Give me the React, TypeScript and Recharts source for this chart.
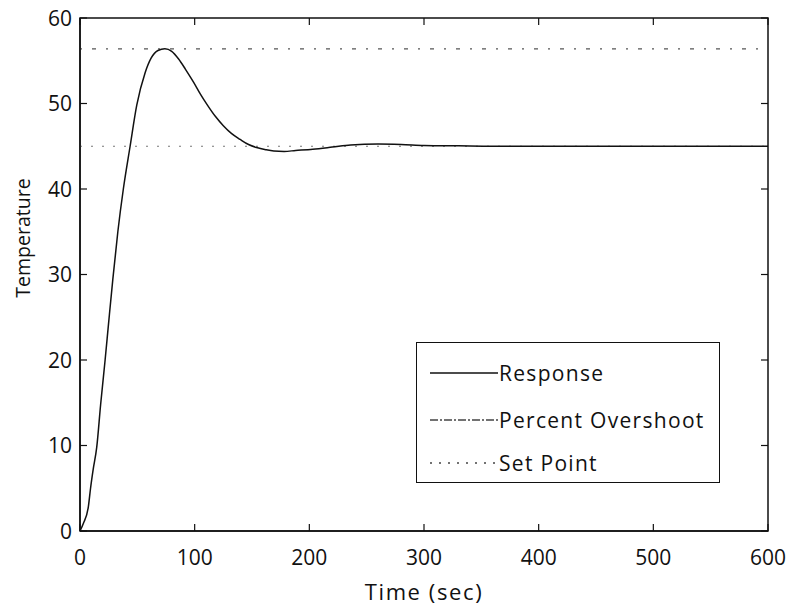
import React from 'react';
import { LineChart, Line, XAxis, YAxis, ReferenceArea } from 'recharts';

// Step response of the temperature loop
const timeSec = [0, 3, 7.3, 9.2, 11.5, 14.6, 18, 21.9, 25, 28.6, 33, 37.8, 43.7, 49.5, 56.8, 62, 68, 74, 80, 86, 92, 99, 105, 110.7, 118, 125, 132, 139.6, 147, 154, 162, 169, 178, 188, 203, 220, 236, 260, 280, 300, 330, 360, 400, 450, 500, 550, 600];
const responseTemp = [0, 0.9, 2.85, 5.0, 7.2, 9.8, 14.8, 20, 24.4, 29.4, 35, 40, 45, 49.8, 53.6, 55.3, 56.2, 56.4, 56.1, 55.2, 54, 52.5, 51.1, 49.9, 48.5, 47.4, 46.5, 45.8, 45.2, 44.85, 44.6, 44.45, 44.4, 44.5, 44.65, 44.9, 45.15, 45.25, 45.2, 45.1, 45.05, 45.0, 45.0, 45.0, 45.0, 45.0, 45.0];

const overshootLevel = 56.4;
const setPointLevel = 45;
const timeSpan = [0, 600];

const xTicks = [0, 100, 200, 300, 400, 500, 600];
const yTicks = [0, 10, 20, 30, 40, 50, 60];

const responseData = timeSec.map((t, i) => ({ t, v: responseTemp[i] }));
const overshootData = timeSpan.map((t) => ({ t, v: overshootLevel }));
const setPointData = timeSpan.map((t) => ({ t, v: setPointLevel }));

const FONT = '"Open Sans", "DejaVu Sans", sans-serif';
const INK = '#111';

// chart geometry
const W = 790;
const H = 606;
const MARGIN = { top: 18, right: 22, bottom: 0, left: 0 };
const Y_AXIS_W = 80;
const X_AXIS_H = 75;
const PLOT_LEFT = MARGIN.left + Y_AXIS_W;
const PLOT_RIGHT = W - MARGIN.right;
const PLOT_TOP = MARGIN.top;
const PLOT_BOTTOM = H - MARGIN.bottom - X_AXIS_H;
const TICK_LEN = 7;

// Bottom tick: label below the frame, inward tick marks on bottom and top edges
function XTick(props: any) {
  const { x, payload } = props;
  return (
    <g>
      <line x1={x} y1={PLOT_BOTTOM} x2={x} y2={PLOT_BOTTOM - TICK_LEN} stroke={INK} strokeWidth={1.2} />
      <line x1={x} y1={PLOT_TOP} x2={x} y2={PLOT_TOP + TICK_LEN} stroke={INK} strokeWidth={1.2} />
      <text x={x} y={PLOT_BOTTOM + 19} dy="0.71em" textAnchor="middle" fill={INK} fontSize={21} fontFamily={FONT}>
        {payload.value}
      </text>
    </g>
  );
}

// Left tick: label left of the frame, inward tick marks on left and right edges
function YTick(props: any) {
  const { y, payload } = props;
  return (
    <g>
      <line x1={PLOT_LEFT} y1={y} x2={PLOT_LEFT + TICK_LEN} y2={y} stroke={INK} strokeWidth={1.2} />
      <line x1={PLOT_RIGHT} y1={y} x2={PLOT_RIGHT - TICK_LEN} y2={y} stroke={INK} strokeWidth={1.2} />
      <text x={PLOT_LEFT - 8} y={y} dy="0.36em" textAnchor="end" fill={INK} fontSize={21} fontFamily={FONT}>
        {payload.value}
      </text>
    </g>
  );
}

const legendItems = [
  { label: 'Response', dash: undefined as string | undefined, color: INK, top: 30 },
  { label: 'Percent Overshoot', dash: '8 2 2 2', color: '#444', top: 77 },
  { label: 'Set Point', dash: '2 7', color: '#444', top: 120 },
];

function LegendBox() {
  return (
    <div
      style={{
        position: 'absolute',
        left: 416,
        top: 342,
        width: 304,
        height: 141,
        border: '1.5px solid #111',
        background: '#fff',
        fontFamily: FONT,
        fontSize: 21,
        letterSpacing: 1.3,
        color: INK,
        boxSizing: 'border-box',
      }}
    >
      {legendItems.map((it) => (
        <div
          key={it.label}
          style={{ position: 'absolute', left: 0, top: it.top - 14, height: 28, display: 'flex', alignItems: 'center', whiteSpace: 'nowrap' }}
        >
          <svg width={82} height={10} style={{ display: 'block' }}>
            <line x1={13} y1={5} x2={81} y2={5} stroke={it.color} strokeWidth={1.3} strokeDasharray={it.dash} />
          </svg>
          <span style={{ lineHeight: '28px' }}>{it.label}</span>
        </div>
      ))}
    </div>
  );
}

export default function App() {
  return (
    <div style={{ position: 'absolute', left: 0, top: 0, width: W, height: H, background: '#fff' }}>
      <LineChart width={W} height={H} margin={MARGIN}>
        <XAxis
          xAxisId="b"
          type="number"
          dataKey="t"
          domain={[0, 600]}
          ticks={xTicks}
          height={X_AXIS_H}
          tickSize={0}
          tickMargin={0}
          axisLine={{ stroke: INK, strokeWidth: 1.5 }}
          tickLine={false}
          tick={<XTick />}
          label={(p: any) => (
            <text
              x={(PLOT_LEFT + PLOT_RIGHT) / 2}
              y={600}
              textAnchor="middle"
              fill={INK}
              fontSize={22}
              letterSpacing={1.6}
              fontFamily={FONT}
            >
              Time (sec)
            </text>
          )}
        />
        <YAxis
          yAxisId="l"
          type="number"
          domain={[0, 60]}
          ticks={yTicks}
          width={Y_AXIS_W}
          tickSize={0}
          tickMargin={0}
          axisLine={{ stroke: INK, strokeWidth: 1.5 }}
          tickLine={false}
          tick={<YTick />}
          label={() => (
            <text
              x={22}
              y={238}
              transform="rotate(-90, 22, 238)"
              textAnchor="middle"
              dominantBaseline="central"
              fill={INK}
              fontSize={19.5}
              fontFamily={FONT}
            >
              Temperature
            </text>
          )}
        />
        <ReferenceArea
          xAxisId="b"
          yAxisId="l"
          x1={0}
          x2={600}
          y1={0}
          y2={60}
          fill="none"
          fillOpacity={0}
          stroke={INK}
          strokeWidth={1.5}
          ifOverflow="visible"
        />
        <Line
          xAxisId="b"
          yAxisId="l"
          data={overshootData}
          dataKey="v"
          type="linear"
          stroke="#555"
          strokeWidth={1.2}
          strokeDasharray="2 10 4 10"
          dot={false}
          isAnimationActive={false}
        />
        <Line
          xAxisId="b"
          yAxisId="l"
          data={setPointData}
          dataKey="v"
          type="linear"
          stroke="#777"
          strokeWidth={1.1}
          strokeDasharray="2 9"
          dot={false}
          isAnimationActive={false}
        />
        <Line
          xAxisId="b"
          yAxisId="l"
          data={responseData}
          dataKey="v"
          type="monotone"
          stroke={INK}
          strokeWidth={1.5}
          dot={false}
          isAnimationActive={false}
        />
      </LineChart>
      <LegendBox />
    </div>
  );
}
